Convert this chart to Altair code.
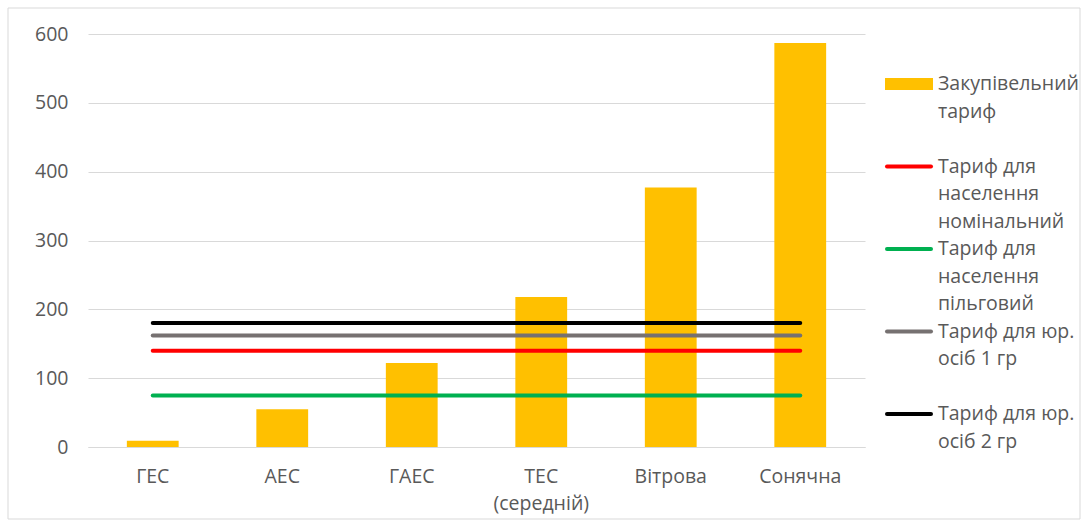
import json
import altair as alt
import pandas as pd

categories = ["ГЕС", "АЕС", "ГАЕС", "ТЕС (середній)", "Вітрова", "Сонячна"]
purchase_tariff = [9, 55, 122, 218, 377, 587]

bar_series = "Закупівельний тариф"
line_series = [
    "Тариф для населення номінальний",
    "Тариф для населення пільговий",
    "Тариф для юр. осіб 1 гр",
    "Тариф для юр. осіб 2 гр",
]
line_values = [140, 75, 162, 180]
line_colors = ["#FF0000", "#00B050", "#767171", "#000000"]
bar_color = "#FFC000"

legend_labels = [
    "Закупівельний\nтариф",
    "Тариф для\nнаселення\nномінальний",
    "Тариф для\nнаселення\nпільговий",
    "Тариф для юр.\nосіб 1 гр",
    "Тариф для юр.\nосіб 2 гр",
]
cat_lines = {"ТЕС (середній)": ["ТЕС", "(середній)"]}

FONT = "Open Sans"
FS = 19.5
TXT = "#595959"
GRID = "#d9d9d9"

bars_df = pd.DataFrame({"cat": categories, "value": purchase_tariff, "series": bar_series})
lines_df = pd.DataFrame(
    [{"cat": c, "value": v, "series": s} for s, v in zip(line_series, line_values) for c in categories]
)
all_series = [bar_series] + line_series
legend_df = pd.DataFrame({
    "series": all_series,
    "label": legend_labels,
    "kind": ["bar"] + ["line"] * len(line_series),
})

x_enc = alt.X(
    "cat:N",
    sort=categories,
    title=None,
    scale=alt.Scale(paddingInner=0.6, paddingOuter=0.3),
    axis=alt.Axis(
        labelAngle=0,
        ticks=False,
        domainColor=GRID,
        labelPadding=20,
        labelExpr=f"({json.dumps(cat_lines, ensure_ascii=False)})[datum.label] || datum.label",
        labelLineHeight=27,
        labelBaseline="top",
    ),
)
y_enc = alt.Y(
    "value:Q",
    title=None,
    scale=alt.Scale(domain=[0, 600], nice=False),
    axis=alt.Axis(values=[0, 100, 200, 300, 400, 500, 600], ticks=False, domain=False,
                  labelPadding=20, gridColor=GRID, grid=True),
)

bars = alt.Chart(bars_df).mark_bar(color=bar_color).encode(x=x_enc, y=y_enc)

lines = alt.Chart(lines_df).mark_line(strokeWidth=4, strokeCap="round").encode(
    x=x_enc,
    y=y_enc,
    detail="series:N",
    color=alt.Color("series:N", scale=alt.Scale(domain=line_series, range=line_colors), legend=None),
)

main = alt.layer(bars, lines)

leg_y = alt.Y("series:N", sort=all_series, axis=None,
              scale=alt.Scale(type="point", domain=all_series, range=[50, 380], padding=0))
leg_color = alt.Color("series:N", scale=alt.Scale(domain=all_series, range=[bar_color] + line_colors), legend=None)

leg_bar = alt.Chart(legend_df).transform_filter("datum.kind == 'bar'").mark_rule(
    strokeWidth=12, strokeCap="butt"
).encode(x=alt.value(797), x2=alt.value(845), y=leg_y, color=leg_color)

leg_line = alt.Chart(legend_df).transform_filter("datum.kind == 'line'").mark_rule(
    strokeWidth=4, strokeCap="round"
).encode(x=alt.value(799), x2=alt.value(843), y=leg_y, color=leg_color)

leg_text = alt.Chart(legend_df).mark_text(
    align="left", baseline="top", lineBreak="\n", lineHeight=27.5, fontSize=FS, color=TXT, dy=-9
).encode(x=alt.value(850), y=leg_y, text="label:N")

legend = alt.layer(leg_bar, leg_line, leg_text)

frame = alt.Chart(pd.DataFrame({"a": [0]})).mark_rect(fill=None, stroke=GRID, strokeWidth=1).encode(
    x=alt.value(-80), x2=alt.value(992), y=alt.value(-26), y2=alt.value(485)
)

chart = (
    alt.layer(frame, main, legend)
    .resolve_scale(y="independent", color="independent")
    .properties(
        width=777,
        height=413,
        autosize=alt.AutoSizeParams(type="none"),
        padding={"left": 88, "top": 34, "right": 224, "bottom": 80},
    )
    .configure(font=FONT)
    .configure_view(stroke=None)
    .configure_axis(labelFont=FONT, labelFontSize=FS, labelColor=TXT)
    .configure_text(font=FONT)
)

chart.save("out.html", embed_options={"renderer": "svg", "actions": False})
